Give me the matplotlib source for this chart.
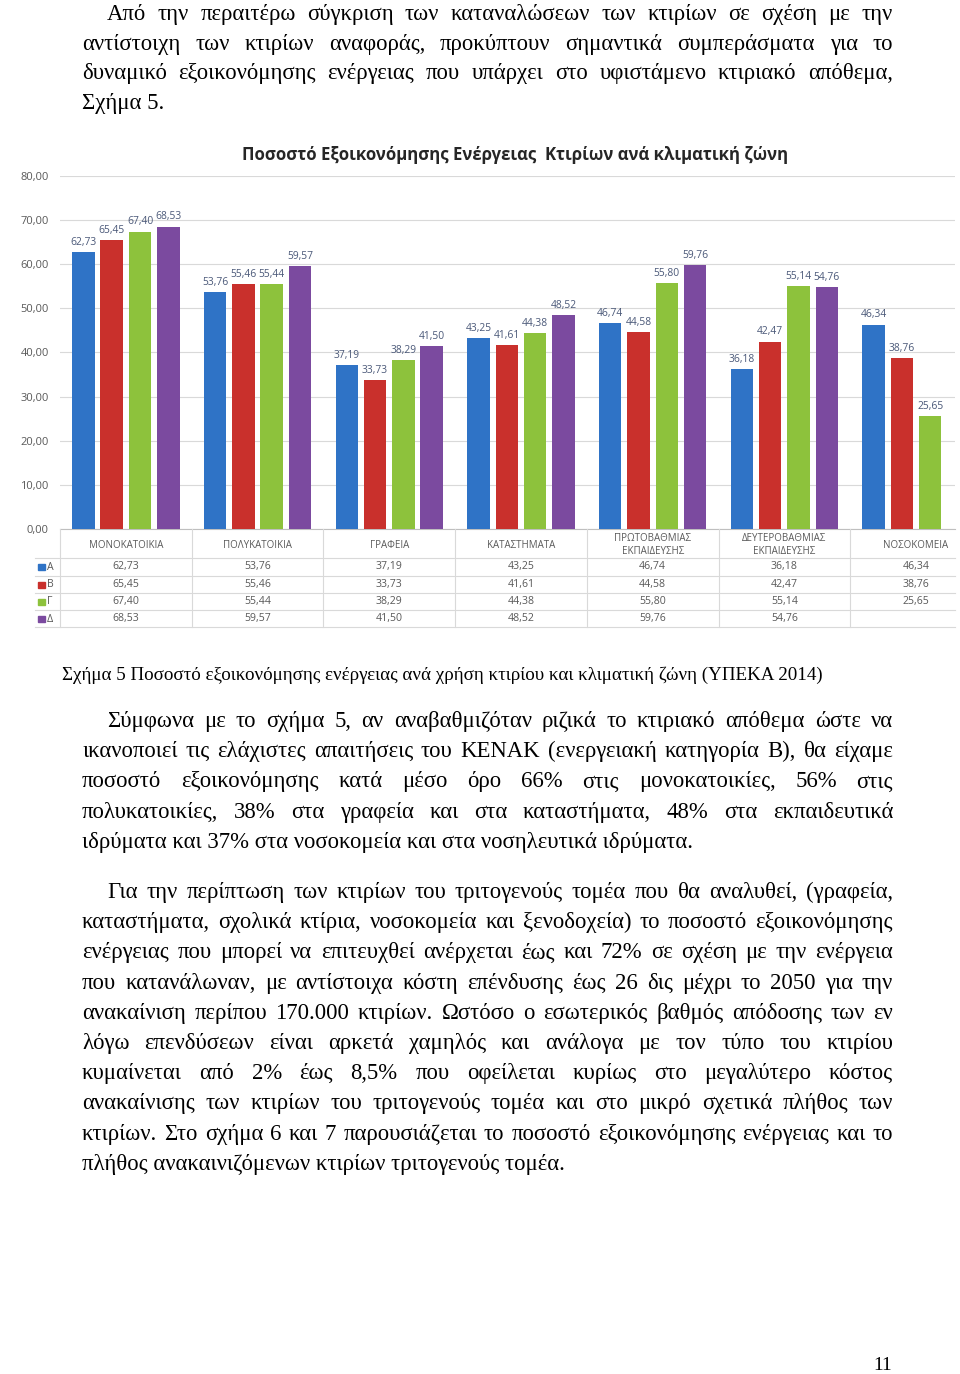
import matplotlib
matplotlib.use('Agg')
import matplotlib.pyplot as plt
import matplotlib.transforms as mtransforms
from matplotlib.lines import Line2D
from matplotlib.patches import Rectangle
import numpy as np

# ---------------- data ----------------
categories = ['ΜΟΝΟΚΑΤΟΙΚΙΑ', 'ΠΟΛΥΚΑΤΟΙΚΙΑ', 'ΓΡΑΦΕΙΑ', 'ΚΑΤΑΣΤΗΜΑΤΑ',
              'ΠΡΩΤΟΒΑΘΜΙΑΣ\nΕΚΠΑΙΔΕΥΣΗΣ', 'ΔΕΥΤΕΡΟΒΑΘΜΙΑΣ\nΕΚΠΑΙΔΕΥΣΗΣ', 'ΝΟΣΟΚΟΜΕΙΑ']
zones = ['Α', 'Β', 'Γ', 'Δ']
zone_a = [62.73, 53.76, 37.19, 43.25, 46.74, 36.18, 46.34]
zone_b = [65.45, 55.46, 33.73, 41.61, 44.58, 42.47, 38.76]
zone_g = [67.40, 55.44, 38.29, 44.38, 55.80, 55.14, 25.65]
zone_d = [68.53, 59.57, 41.50, 48.52, 59.76, 54.76, None]
y_ticks = [0, 10, 20, 30, 40, 50, 60, 70, 80]

chart_title = 'Ποσοστό Εξοικονόμησης Ενέργειας  Κτιρίων ανά κλιματική ζώνη'

para1 = ["Από την περαιτέρω σύγκριση των καταναλώσεων των κτιρίων σε σχέση με την",
         "αντίστοιχη των κτιρίων αναφοράς, προκύπτουν σημαντικά συμπεράσματα για το",
         "δυναμικό εξοικονόμησης ενέργειας που υπάρχει στο υφιστάμενο κτιριακό απόθεμα,",
         "Σχήμα 5."]
caption = "Σχήμα 5 Ποσοστό εξοικονόμησης ενέργειας ανά χρήση κτιρίου και κλιματική ζώνη (ΥΠΕΚΑ 2014)"
para2 = ["Σύμφωνα με το σχήμα 5, αν αναβαθμιζόταν ριζικά το κτιριακό απόθεμα ώστε να",
         "ικανοποιεί τις ελάχιστες απαιτήσεις του ΚΕΝΑΚ (ενεργειακή κατηγορία Β), θα είχαμε",
         "ποσοστό εξοικονόμησης κατά μέσο όρο 66% στις μονοκατοικίες, 56% στις",
         "πολυκατοικίες, 38% στα γραφεία και στα καταστήματα, 48% στα εκπαιδευτικά",
         "ιδρύματα και 37% στα νοσοκομεία και στα νοσηλευτικά ιδρύματα."]
para3 = ["Για την περίπτωση των κτιρίων του τριτογενούς τομέα που θα αναλυθεί, (γραφεία,",
         "καταστήματα, σχολικά κτίρια, νοσοκομεία και ξενοδοχεία) το ποσοστό εξοικονόμησης",
         "ενέργειας που μπορεί να επιτευχθεί ανέρχεται έως και 72% σε σχέση με την ενέργεια",
         "που κατανάλωναν, με αντίστοιχα κόστη επένδυσης έως 26 δις μέχρι το 2050 για την",
         "ανακαίνιση περίπου 170.000 κτιρίων. Ωστόσο ο εσωτερικός βαθμός απόδοσης των εν",
         "λόγω επενδύσεων είναι αρκετά χαμηλός και ανάλογα με τον τύπο του κτιρίου",
         "κυμαίνεται από 2% έως 8,5% που οφείλεται κυρίως στο μεγαλύτερο κόστος",
         "ανακαίνισης των κτιρίων του τριτογενούς τομέα και στο μικρό σχετικά πλήθος των",
         "κτιρίων. Στο σχήμα 6 και 7 παρουσιάζεται το ποσοστό εξοικονόμησης ενέργειας και το",
         "πλήθος ανακαινιζόμενων κτιρίων τριτογενούς τομέα."]
page_number = '11'

# ---------------- layout ----------------
W, H = 960, 1374
fig = plt.figure(figsize=(W / 100, H / 100), dpi=100)
fig.patch.set_facecolor('white')
renderer = fig.canvas.get_renderer()

def fx(x):
    return x / W

def fy(y):
    return 1 - y / H

SERIF = ['Liberation Serif', 'DejaVu Serif']
SANS = ['Open Sans', 'DejaVu Sans']

def text_width(s, size, family, weight='normal'):
    t = fig.text(0, 0, s, fontsize=size, family=family, fontweight=weight)
    w = t.get_window_extent(renderer).width
    t.remove()
    return w

def fit_size(s, target, family, weight='normal', base=14.0):
    return base * target / text_width(s, base, family, weight)

body_size = fit_size(para2[-1], 615, SERIF)
cap_size = fit_size(caption, 767, SERIF)

def draw_line(s, x0, x1, base_y, size, justify):
    if not justify:
        fig.text(fx(x0), fy(base_y), s, fontsize=size, family=SERIF,
                 va='baseline', ha='left', color='black')
        return
    words = s.split(' ')
    ws = [text_width(w, size, SERIF) for w in words]
    gap = (x1 - x0 - sum(ws)) / (len(words) - 1)
    xx = x0
    for w, wd in zip(words, ws):
        fig.text(fx(xx), fy(base_y), w, fontsize=size, family=SERIF,
                 va='baseline', ha='left', color='black')
        xx += wd + gap

def draw_para(lines, first_base, step, indent=107, left=82, right=893):
    for i, s in enumerate(lines):
        x0 = indent if i == 0 else left
        draw_line(s, x0, right, first_base + i * step, body_size,
                  justify=(i < len(lines) - 1))

draw_para(para1, 20, 29.7)
fig.text(fx(62), fy(680), caption, fontsize=cap_size, family=SERIF,
         va='baseline', ha='left', color='black')
draw_para(para2, 727, 30.2)
draw_para(para3, 898, 30.2)
fig.text(fx(883), fy(1366), page_number, fontsize=body_size * 0.85, family=SERIF,
         va='center', ha='center', color='black')

# ---------------- chart ----------------
colors = ['#2F73C6', '#C9302C', '#8DC23C', '#7B4A9F']
series = [zone_a, zone_b, zone_g, zone_d]

cat_px = 131.7
ax_left, ax_right, ax_top, ax_bot = 60, 955, 176, 529
ax = fig.add_axes([fx(ax_left), fy(ax_bot), (ax_right - ax_left) / W, (ax_bot - ax_top) / H])
ax.set_facecolor('none')
xc = np.arange(len(categories))
pitch, bw = 0.215, 0.171
for k, vals in enumerate(series):
    v = np.array([np.nan if s is None else s for s in vals], dtype=float)
    pos = xc + (k - 1.5) * pitch
    ax.bar(pos, v, width=bw, color=colors[k], zorder=3)
    for p, val in zip(pos, v):
        if not np.isnan(val):
            ax.annotate(f'{val:.2f}'.replace('.', ','), (p, val), xytext=(0, 3),
                        textcoords='offset points', ha='center', va='bottom',
                        fontsize=7.4, color='#4A5878', family=SANS, zorder=4)

ax.set_xlim(-0.5, -0.5 + (ax_right - ax_left) / cat_px)
ax.set_ylim(0, 80)
ax.set_yticks(y_ticks)
ax.set_yticklabels([f'{t},00' for t in y_ticks], family=SANS)
ax.tick_params(axis='y', length=0, pad=8, labelsize=8, labelcolor='#595959')
ax.set_xticks([])
ax.grid(axis='y', color='#D9D9D9', lw=0.8, zorder=0)
for s in ['top', 'right', 'left']:
    ax.spines[s].set_visible(False)
ax.spines['bottom'].set_color('#BFBFBF')
ax.spines['bottom'].set_linewidth(0.8)

fig.text(fx(515), fy(155), chart_title, fontsize=fit_size(chart_title, 550, SANS, 'bold'),
         family=SANS, fontweight='bold', ha='center', va='center', color='#262626')

# data table under the chart
trans = mtransforms.blended_transform_factory(ax.transData, fig.transFigure)
header_mid = 545
row_mid = [567, 584.5, 601.5, 619]
row_lines = [558, 576, 593, 610, 627]
grid_c = '#D9D9D9'
for i, c in enumerate(categories):
    fig.text(i, fy(header_mid), c, transform=trans, ha='center', va='center',
             fontsize=7.0, color='#595959', family=SANS, linespacing=1.15)
for k, vals in enumerate(series):
    for i, val in enumerate(vals):
        if val is not None:
            fig.text(i, fy(row_mid[k]), f'{val:.2f}'.replace('.', ','), transform=trans,
                     ha='center', va='center', fontsize=7.6, color='#595959', family=SANS)
    fig.patches.append(Rectangle((fx(38), fy(row_mid[k] + 3)), 7 / W, 6 / H,
                                 transform=fig.transFigure, color=colors[k]))
    fig.text(fx(47), fy(row_mid[k]), zones[k], ha='left', va='center',
             fontsize=7.6, color='#595959', family=SANS)

xmax = ax.get_xlim()[1]
for i in range(len(categories) + 1):
    xb = i - 0.5
    if xb <= xmax:
        fig.add_artist(Line2D([xb, xb], [fy(529), fy(627)], transform=trans,
                              color=grid_c, lw=0.8))
for yl in row_lines:
    fig.add_artist(Line2D([fx(35), fx(955)], [fy(yl), fy(yl)], transform=fig.transFigure,
                          color=grid_c, lw=0.8))

fig.savefig('out.png', dpi=100, facecolor='white')
